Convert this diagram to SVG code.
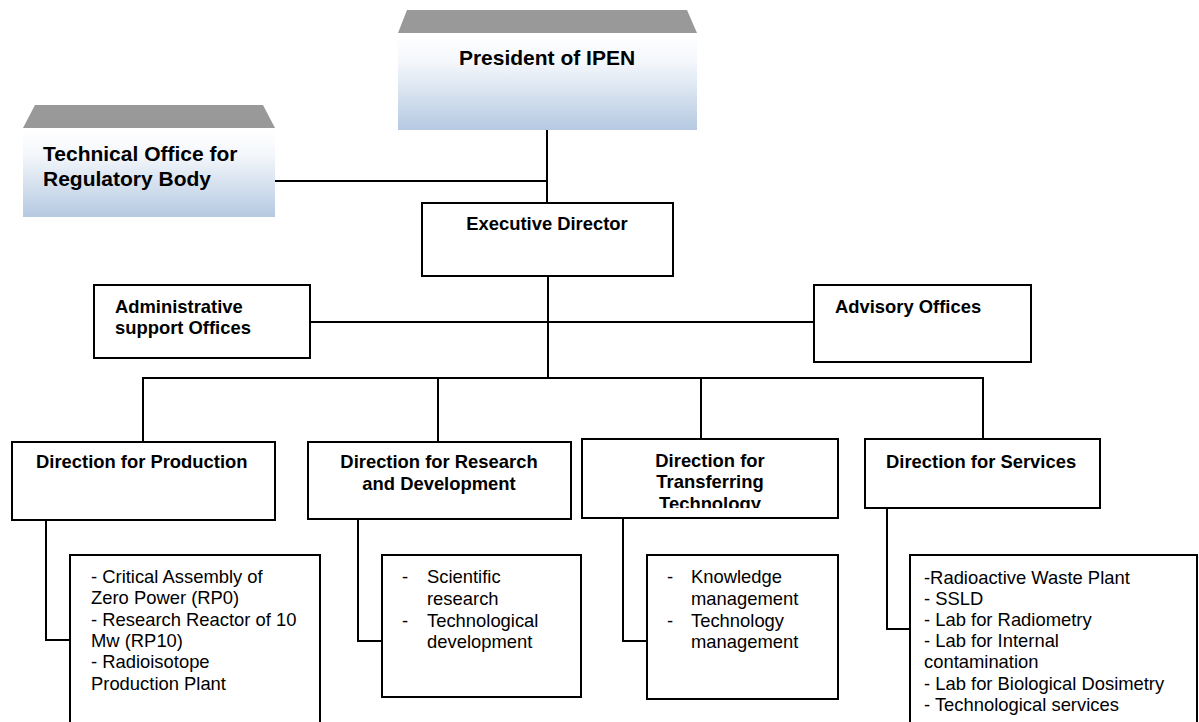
<svg xmlns="http://www.w3.org/2000/svg" width="1199" height="722" viewBox="0 0 1199 722">
<defs>
<linearGradient id="blueGrad" x1="0" y1="0" x2="0" y2="1">
<stop offset="0" stop-color="#ffffff"/>
<stop offset="0.3" stop-color="#f4f7fb"/>
<stop offset="1" stop-color="#b5c9e1"/>
</linearGradient>
<clipPath id="clipTT"><rect x="582" y="439" width="256" height="69"/></clipPath>
<style>
.box{fill:#ffffff;stroke:#000000;stroke-width:2}
.roof{fill:#999999}
.body{fill:url(#blueGrad)}
.ln{stroke:#000000;stroke-width:2;fill:none}
.b{font-family:"Liberation Sans",Arial,sans-serif;font-weight:bold;font-size:18.4px;fill:#000}
.big{font-family:"Liberation Sans",Arial,sans-serif;font-weight:bold;font-size:21px;fill:#000}
.r{font-family:"Liberation Sans",Arial,sans-serif;font-size:18.4px;fill:#000}
.c{text-anchor:middle}
</style>
</defs>
<rect width="1199" height="722" fill="#ffffff"/>

<g id="connectors">
<line class="ln" x1="547" y1="130" x2="547" y2="203"/>
<line class="ln" x1="275" y1="181" x2="547" y2="181"/>
<line class="ln" x1="548" y1="276" x2="548" y2="378"/>
<line class="ln" x1="310" y1="322" x2="814" y2="322"/>
<line class="ln" x1="143" y1="378" x2="983" y2="378"/>
<line class="ln" x1="143" y1="377" x2="143" y2="442"/>
<line class="ln" x1="438" y1="377" x2="438" y2="442"/>
<line class="ln" x1="701" y1="377" x2="701" y2="439"/>
<line class="ln" x1="983" y1="377" x2="983" y2="439"/>
<polyline class="ln" points="46,520 46,640 70,640"/>
<polyline class="ln" points="358,519 358,641 382,641"/>
<polyline class="ln" points="623,518 623,641 647,641"/>
<polyline class="ln" points="887,508 887,629 910,629"/>
</g>

<g id="president">
<polygon class="roof" points="407,10 687,10 697,33 398,33"/>
<rect class="body" x="398" y="33" width="299" height="97"/>
<text class="big c" x="547" y="65">President of IPEN</text>
</g>

<g id="technical-office">
<polygon class="roof" points="35,105 263,105 275,128 23,128"/>
<rect class="body" x="23" y="128" width="252" height="89"/>
<text class="big" x="43" y="161">Technical Office for</text>
<text class="big" x="43" y="186">Regulatory Body</text>
</g>

<g id="executive-director">
<rect class="box" x="422" y="203" width="251" height="73"/>
<text class="b c" x="547" y="230">Executive Director</text>
</g>

<g id="administrative">
<rect class="box" x="94" y="285" width="216" height="73"/>
<text class="b" x="115" y="313">Administrative</text>
<text class="b" x="115" y="334">support Offices</text>
</g>

<g id="advisory">
<rect class="box" x="814" y="285" width="217" height="77"/>
<text class="b" x="835" y="313">Advisory Offices</text>
</g>

<g id="production">
<rect class="box" x="12" y="442" width="263" height="78"/>
<text class="b" x="36" y="468">Direction for Production</text>
</g>

<g id="production-units">
<rect class="box" x="70" y="555" width="250" height="180"/>
<text class="r" x="91" y="583">- Critical Assembly of</text>
<text class="r" x="91" y="604">Zero Power (RP0)</text>
<text class="r" x="91" y="626">- Research Reactor of 10</text>
<text class="r" x="91" y="647">Mw (RP10)</text>
<text class="r" x="91" y="668">- Radioisotope</text>
<text class="r" x="91" y="690">Production Plant</text>
</g>

<g id="research">
<rect class="box" x="308" y="442" width="263" height="77"/>
<text class="b c" x="439" y="468">Direction for Research</text>
<text class="b c" x="439" y="490">and Development</text>
</g>

<g id="research-units">
<rect class="box" x="382" y="555" width="199" height="142"/>
<text class="r" x="402" y="583">-</text>
<text class="r" x="427" y="583">Scientific</text>
<text class="r" x="427" y="605">research</text>
<text class="r" x="402" y="627">-</text>
<text class="r" x="427" y="627">Technological</text>
<text class="r" x="427" y="648">development</text>
</g>

<g id="transferring">
<rect class="box" x="582" y="439" width="256" height="79"/>
<g clip-path="url(#clipTT)">
<text class="b c" x="710" y="467">Direction for</text>
<text class="b c" x="710" y="488">Transferring</text>
<text class="b c" x="710" y="510">Technology</text>
</g>
</g>

<g id="transferring-units">
<rect class="box" x="647" y="555" width="191" height="144"/>
<text class="r" x="667" y="583">-</text>
<text class="r" x="691" y="583">Knowledge</text>
<text class="r" x="691" y="605">management</text>
<text class="r" x="667" y="627">-</text>
<text class="r" x="691" y="627">Technology</text>
<text class="r" x="691" y="648">management</text>
</g>

<g id="services">
<rect class="box" x="865" y="439" width="235" height="69"/>
<text class="b" x="886" y="468">Direction for Services</text>
</g>

<g id="services-units">
<rect class="box" x="910" y="555" width="287" height="180"/>
<text class="r" x="924" y="584">-Radioactive Waste Plant</text>
<text class="r" x="924" y="605">- SSLD</text>
<text class="r" x="924" y="626">- Lab for Radiometry</text>
<text class="r" x="924" y="647">- Lab for Internal</text>
<text class="r" x="924" y="668">contamination</text>
<text class="r" x="924" y="690">- Lab for Biological Dosimetry</text>
<text class="r" x="924" y="711">- Technological services</text>
</g>
</svg>
